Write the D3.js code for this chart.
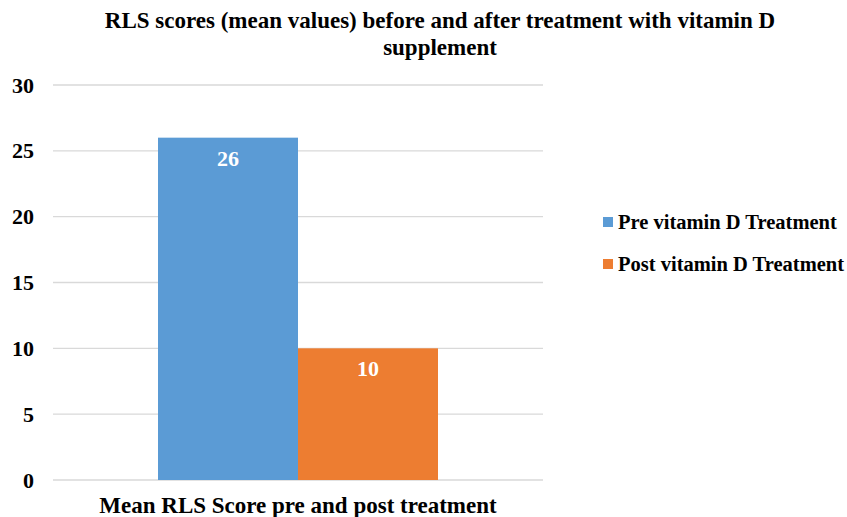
<!DOCTYPE html>
<meta charset="utf-8" />
<script src="https://d3js.org/d3.v7.min.js"></script>
<style>
	body { margin: 0; background: #fff; }
	text { font-family: "Liberation Serif", "Times New Roman", serif; font-weight: bold; }
</style>
<div id="chart"></div>
<script>
	// data
	var series = ["Pre vitamin D Treatment", "Post vitamin D Treatment"];
	var values = [26, 10];
	var colors = ["#5B9BD5", "#ED7D31"];
	var category = "Mean RLS Score pre and post treatment";
	var yTicks = [0, 5, 10, 15, 20, 25, 30];
	var titleLines = ["RLS scores (mean values) before and after treatment with vitamin D", "supplement"];

	var W = 847, H = 517;
	var margin = { top: 85, right: 304, bottom: 37, left: 53 },
		width = W - margin.left - margin.right,
		height = H - margin.top - margin.bottom;

	var svg = d3.select("#chart").append("svg")
		.attr("width", W)
		.attr("height", H);

	var g = svg.append("g")
		.attr("transform", "translate(" + margin.left + "," + margin.top + ")");

	var y = d3.scaleLinear().domain([0, 30]).range([height, 0]);

	// outer band for the single category, inner band for the two series
	var x0 = d3.scaleBand().domain([category]).range([0, width]).paddingInner(0).paddingOuter(0.375);
	var x1 = d3.scaleBand().domain(series).range([0, x0.bandwidth()]).padding(0);

	// gridlines
	g.selectAll(".grid").data(yTicks).join("line")
		.attr("x1", 0).attr("x2", width)
		.attr("y1", d => y(d)).attr("y2", d => y(d))
		.attr("stroke", "#d9d9d9").attr("stroke-width", 1.3);

	// y axis labels
	var yAxis = g.append("g").call(d3.axisLeft(y).tickValues(yTicks).tickSize(0).tickPadding(19));
	yAxis.select(".domain").remove();
	yAxis.selectAll("text")
		.style("font-family", "'Liberation Serif', serif")
		.style("font-weight", "bold")
		.style("font-size", "22px")
		.attr("fill", "#000");

	// bars
	var bars = g.append("g").attr("transform", "translate(" + x0(category) + ",0)");
	bars.selectAll("rect").data(values).join("rect")
		.attr("x", (d, i) => x1(series[i]))
		.attr("y", d => y(d))
		.attr("width", x1.bandwidth())
		.attr("height", d => height - y(d))
		.attr("fill", (d, i) => colors[i]);

	bars.selectAll(".lbl").data(values).join("text")
		.attr("class", "lbl")
		.attr("x", (d, i) => x1(series[i]) + x1.bandwidth() / 2)
		.attr("y", d => y(d) + 28)
		.attr("text-anchor", "middle")
		.attr("fill", "#fff")
		.style("font-size", "22px")
		.text(d => d);

	// x axis category label
	g.append("text")
		.attr("x", x0(category) + x0.bandwidth() / 2)
		.attr("y", height + 33)
		.attr("text-anchor", "middle")
		.style("font-size", "23px")
		.text(category);

	// title
	svg.selectAll(".title").data(titleLines).join("text")
		.attr("class", "title")
		.attr("x", 440)
		.attr("y", (d, i) => 28 + i * 27)
		.attr("text-anchor", "middle")
		.style("font-size", "23px")
		.text(d => d);

	// legend
	var legend = svg.append("g").attr("transform", "translate(603,0)");
	var lg = legend.selectAll("g").data(series).join("g")
		.attr("transform", (d, i) => "translate(0," + (222 + i * 42) + ")");
	lg.append("rect")
		.attr("x", 0).attr("y", -5)
		.attr("width", 10).attr("height", 10)
		.attr("fill", (d, i) => colors[i]);
	lg.append("text")
		.attr("x", 15).attr("y", 7)
		.style("font-size", "20.5px")
		.text(d => d);
</script>
